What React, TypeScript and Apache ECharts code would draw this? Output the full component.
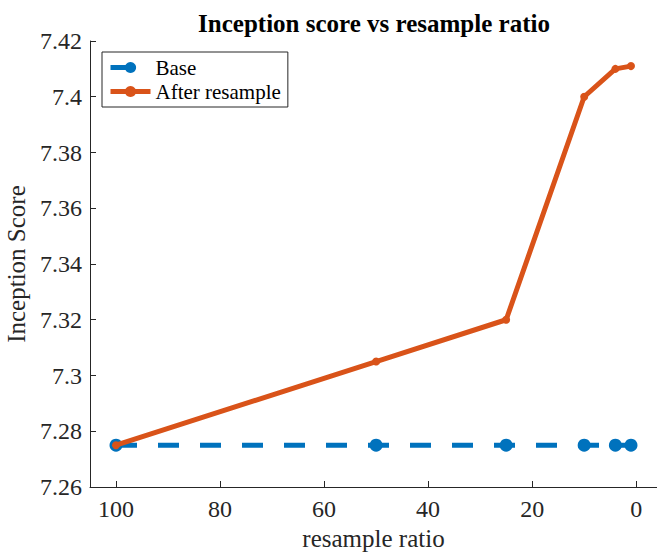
import React, { useEffect, useRef } from "react";
import * as echarts from "echarts";

const ratios = [100, 50, 25, 10, 4, 1];
const baseScores = [7.275, 7.275, 7.275, 7.275, 7.275, 7.275];
const afterScores = [7.275, 7.305, 7.32, 7.4, 7.41, 7.411];
const xTicks = [0, 20, 40, 60, 80, 100];
const yTicks = [7.26, 7.28, 7.3, 7.32, 7.34, 7.36, 7.38, 7.4, 7.42];
const xMin = -4;
const xMax = 105;
const yMin = 7.26;
const yMax = 7.42;

const FONT = "Liberation Serif";
const AX = "#262626";

export default function App() {
  const ref = useRef<HTMLDivElement>(null);
  useEffect(() => {
    const chart = echarts.init(ref.current!, null, { renderer: "svg" });
    chart.setOption({
      animation: false,
      backgroundColor: "#ffffff",
      textStyle: { fontFamily: FONT },
      title: {
        text: "Inception score vs resample ratio",
        left: 369,
        textAlign: "center",
        top: 6,
        textStyle: { fontFamily: FONT, fontSize: 25, fontWeight: "bold", color: "#000" },
      },
      legend: {
        orient: "vertical",
        left: 102,
        top: 52,
        padding: [5, 7, 5, 6],
        itemGap: 3,
        itemWidth: 40,
        itemHeight: 14,
        borderColor: AX,
        borderWidth: 1,
        borderRadius: 0,
        backgroundColor: "#fff",
        textStyle: { fontFamily: FONT, fontSize: 21, color: "#000", lineHeight: 21 },
        data: [
          { name: "Base", lineStyle: { type: [20, 40], width: 5 } },
          { name: "After resample", lineStyle: { width: 5 } },
        ],
      },
      grid: { left: 90, right: 0, top: 41, bottom: 65, outerBoundsMode: "none", containLabel: false },
      xAxis: {
        type: "value",
        inverse: true,
        min: xMin,
        max: xMax,
        name: "resample ratio",
        nameLocation: "middle",
        nameGap: 39,
        nameTextStyle: { fontFamily: FONT, fontSize: 25, color: AX },
        axisLine: { onZero: false, lineStyle: { color: AX, width: 1 } },
        axisTick: { inside: true, length: 6, customValues: xTicks, lineStyle: { color: AX } },
        axisLabel: {
          customValues: xTicks,
          fontFamily: FONT,
          fontSize: 24,
          color: AX,
          margin: 10,
        },
        splitLine: { show: false },
      },
      yAxis: {
        type: "value",
        min: yMin,
        max: yMax,
        name: "Inception Score",
        nameLocation: "middle",
        nameGap: 52,
        nameRotate: 90,
        nameTextStyle: { fontFamily: FONT, fontSize: 25, color: AX },
        axisLine: { show: true, onZero: false, lineStyle: { color: AX, width: 1 } },
        axisTick: { show: true, inside: true, length: 6, customValues: yTicks, lineStyle: { color: AX } },
        axisLabel: {
          customValues: yTicks,
          fontFamily: FONT,
          fontSize: 24,
          color: AX,
          margin: 8,
          formatter: (v: number) => String(parseFloat(v.toFixed(2))),
        },
        splitLine: { show: false },
      },
      series: [
        {
          name: "Base",
          type: "line",
          data: ratios.map((r, i) => [r, baseScores[i]]),
          symbol: "circle",
          symbolSize: 13,
          showSymbol: true,
          color: "#0072BD",
          lineStyle: { width: 5, type: [21, 21], color: "#0072BD" },
          itemStyle: { color: "#0072BD" },
          z: 2,
        },
        {
          name: "After resample",
          type: "line",
          data: ratios.map((r, i) => [r, afterScores[i]]),
          symbol: "circle",
          symbolSize: 8,
          showSymbol: true,
          color: "#D95319",
          lineStyle: { width: 5, color: "#D95319" },
          itemStyle: { color: "#D95319" },
          z: 3,
        },
      ],
    });
    return () => chart.dispose();
  }, []);
  return <div ref={ref} style={{ width: 657, height: 552, position: "absolute", left: 0, top: 0 }} />;
}
